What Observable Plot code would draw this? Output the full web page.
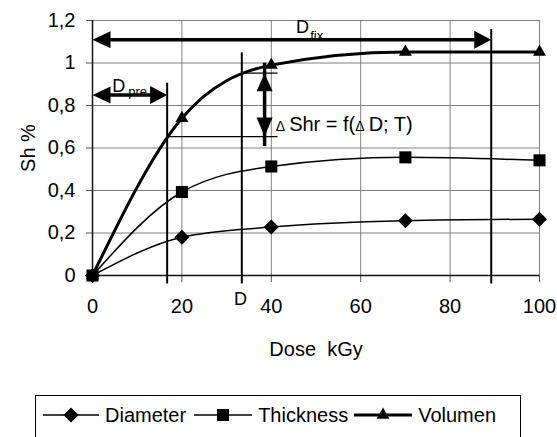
<!DOCTYPE html>
<html>
<head>
<meta charset="utf-8">
<script src="https://cdn.jsdelivr.net/npm/d3@7"></script>
<script src="https://cdn.jsdelivr.net/npm/@observablehq/plot@0.6"></script>
<style>
  html, body { margin: 0; padding: 0; background: #fff; overflow: hidden; }
  body { font-family: "Liberation Sans", Arial, sans-serif; }
  #wrap { position: relative; width: 557px; height: 437px; }
  #legend {
    position: absolute; left: 35px; top: 395px; width: 486px; height: 60px;
    box-sizing: border-box; border: 1px solid #000; background: #fff;
    display: flex; align-items: flex-start; padding: 6px 0 0 7px; font-size: 20px; color: #000;
  }
  #legend .item { display: flex; align-items: center; height: 26px; }
  #legend svg { display: block; }
  #legend span { white-space: nowrap; }
</style>
</head>
<body>
<div id="wrap"><div id="chart"></div><div id="legend"></div></div>
<script>
// ---- data ----
const doses = [0, 20, 40, 70, 100];
const diameter = [0, 0.18, 0.228, 0.258, 0.265];
const thickness = [0, 0.393, 0.513, 0.556, 0.542];
const volumen = [0, 0.74, 0.99, 1.052, 1.052];
const seriesNames = ["Diameter", "Thickness", "Volumen"];
const seriesSymbols = ["diamond2", "square", "triangle"];

const xTicks = [0, 20, 40, 60, 80, 100];
const xTickLabels = ["0", "20", "40", "60", "80", "100"];
const yTicks = [0, 0.2, 0.4, 0.6, 0.8, 1, 1.2];
const yTickLabels = ["0", "0,2", "0,4", "0,6", "0,8", "1", "1,2"];
const xTitle = "Dose\u00a0\u00a0kGy";
const yTitle = "Sh %";

// annotation values (data units)
const dPre = 16.7, dMid = 33.4, dFix = 89.2;
const guideTops = [0.905, 1.048, 1.157];
const guideBottom = -0.04;
const fixArrowY = 1.11, preArrowY = 0.849;
const shrX = 38.5, shrTop = 0.952, shrBottom = 0.654, shrLineEnd = 41.5;
const formula = "ΔShr = f(ΔD; T)";

// ---- build tables ----
const series = [diameter, thickness, volumen];
const rows = seriesNames.map((name, s) => doses.map((d, i) => ({series: name, dose: d, value: series[s][i]})));

const guides = [dPre, dMid, dFix].map((x, i) => ({x, y1: guideBottom, y2: guideTops[i]}));
const shortLines = [
  {y: shrBottom, x1: dPre, x2: shrLineEnd},
  {y: shrTop, x1: dMid, x2: shrLineEnd}
];
const hShafts = [
  {y: fixArrowY, x1: 0, x2: dFix},
  {y: preArrowY, x1: 0, x2: dPre}
];
const leftHeads = [{x: 0, y: fixArrowY}, {x: 0, y: preArrowY}];
const rightHeads = [{x: dFix, y: fixArrowY}, {x: dPre, y: preArrowY}];
const upHeads = [{x: shrX, y: shrTop}];
const downHeads = [{x: shrX, y: shrBottom}];
const bigLabels = [
  {x: 45.5, y: 1.167, text: "D"},
  {x: 4.4, y: 0.89, text: "D"}
];
const subLabels = [
  {x: 48.7, y: 1.13, text: "fix"},
  {x: 8.0, y: 0.862, text: "pre"}
];

const lineWidths = [1.5, 1.5, 3];
const dotR = [6.8, 6.8, 4.8];

const font = "Liberation Sans, Arial, sans-serif";

// filled arrowhead symbols, tip at the anchor point
function head(dir, L, W) {
  return {
    draw(context) {
      const pts = {
        left: [[0, 0], [L, -W], [L, W]],
        right: [[0, 0], [-L, -W], [-L, W]],
        up: [[0, 0], [-W, L], [W, L]],
        down: [[0, 0], [-W, -L], [W, -L]]
      }[dir];
      context.moveTo(pts[0][0], pts[0][1]);
      context.lineTo(pts[1][0], pts[1][1]);
      context.lineTo(pts[2][0], pts[2][1]);
      context.closePath();
    }
  };
}

const chart = Plot.plot({
  width: 557,
  height: 392,
  marginLeft: 92,
  marginRight: 18,
  marginTop: 20,
  marginBottom: 117,
  style: {fontFamily: font, fontSize: "20px", background: "white", color: "black", overflow: "visible"},
  x: {domain: [0, 100]},
  y: {domain: [0, 1.2]},
  marks: [
    // grid
    Plot.ruleX(xTicks.filter(d => d > 0), {stroke: "#808080", strokeWidth: 1}),
    Plot.ruleY(yTicks.filter(d => d > 0), {stroke: "#808080", strokeWidth: 1}),
    // axes
    Plot.axisX({ticks: xTicks, tickFormat: d => xTickLabels[xTicks.indexOf(d)], tickSize: 7, tickPadding: 16,
      fontSize: 20, label: null, stroke: "#555"}),
    Plot.axisY({ticks: yTicks, tickFormat: d => yTickLabels[yTicks.indexOf(d)], tickSize: 6, tickPadding: 11,
      fontSize: 20, stroke: "#555", label: yTitle, labelAnchor: "center", labelOffset: 72, labelArrow: "none"}),
    Plot.ruleX([0], {stroke: "#111", strokeWidth: 1.5}),
    Plot.ruleY([0], {stroke: "#111", strokeWidth: 1.5}),
    Plot.text([{x: 50, y: -0.35, text: xTitle}], {x: "x", y: "y", text: "text", fontSize: 20}),
    // annotation guides
    Plot.ruleX(guides, {x: "x", y1: "y1", y2: "y2", stroke: "black", strokeWidth: 2}),
    Plot.ruleY(shortLines, {y: "y", x1: "x1", x2: "x2", stroke: "black", strokeWidth: 1.3}),
    // series
    ...rows.map((r, s) => Plot.line(r, {x: "dose", y: "value", curve: "monotone-x", stroke: "black", strokeWidth: lineWidths[s]})),
    ...rows.map((r, s) => Plot.dot(r, {x: "dose", y: "value", symbol: seriesSymbols[s], r: dotR[s], fill: "black", stroke: "none"})),
    // arrows
    Plot.ruleY(hShafts, {y: "y", x1: "x1", x2: "x2", stroke: "black", strokeWidth: 3.5, insetLeft: 10, insetRight: 10}),
    Plot.ruleX([{x: shrX, y1: shrBottom, y2: shrTop}], {x: "x", y1: "y1", y2: "y2", stroke: "black", strokeWidth: 3.5, insetTop: 10, insetBottom: 10}),
    Plot.dot(leftHeads, {x: "x", y: "y", symbol: head("left", 18, 8.5), fill: "black", stroke: "none"}),
    Plot.dot(rightHeads, {x: "x", y: "y", symbol: head("right", 17, 9), fill: "black", stroke: "none"}),
    Plot.dot(upHeads, {x: "x", y: "y", symbol: head("up", 18, 8), fill: "black", stroke: "none"}),
    Plot.dot(downHeads, {x: "x", y: "y", symbol: head("down", 19, 8), fill: "black", stroke: "none"}),
    // labels
    Plot.text(bigLabels, {x: "x", y: "y", text: "text", textAnchor: "start", fontSize: 18}),
    Plot.text(subLabels, {x: "x", y: "y", text: "text", textAnchor: "start", fontSize: 13}),
    Plot.text([{x: 33.1, y: -0.11, text: "D"}], {x: "x", y: "y", text: "text", fontSize: 18}),
    Plot.text([{x: 41.0, y: 0.712, text: formula}], {x: "x", y: "y", text: "text", textAnchor: "start", fontSize: 20})
  ]
});

// smaller Δ glyphs in the formula
chart.querySelectorAll("text").forEach(t => {
  if (t.textContent === formula) {
    t.textContent = "";
    const parts = [["Δ", 14], ["\u2009Shr = f(", 20], ["Δ", 14], ["\u2009D; T)", 20]];
    for (const [s, fs] of parts) {
      const ts = document.createElementNS("http://www.w3.org/2000/svg", "tspan");
      ts.setAttribute("font-size", fs);
      ts.textContent = s;
      t.appendChild(ts);
    }
  }
});

document.getElementById("chart").appendChild(chart);

// ---- legend ----
const legend = document.getElementById("legend");
const sampleWidths = [56, 58, 58];
const gaps = [8, 6, 4];
seriesNames.forEach((name, s) => {
  const item = document.createElement("div");
  item.className = "item";
  item.style.marginRight = (gaps[s]) + "px";
  const w = sampleWidths[s];
  const sym = d3.symbol(s === 0 ? d3.symbolDiamond2 : s === 1 ? d3.symbolSquare : d3.symbolTriangle, Math.PI * dotR[s] * dotR[s])();
  item.innerHTML = `<svg width="${w}" height="26"><line x1="0" x2="${w}" y1="13" y2="13" stroke="black" stroke-width="${lineWidths[s]}"/>` +
    `<path d="${sym}" transform="translate(${w / 2},13)" fill="black"/></svg><span style="margin-left:6px">${name}</span>`;
  legend.appendChild(item);
});
</script>
</body>
</html>
